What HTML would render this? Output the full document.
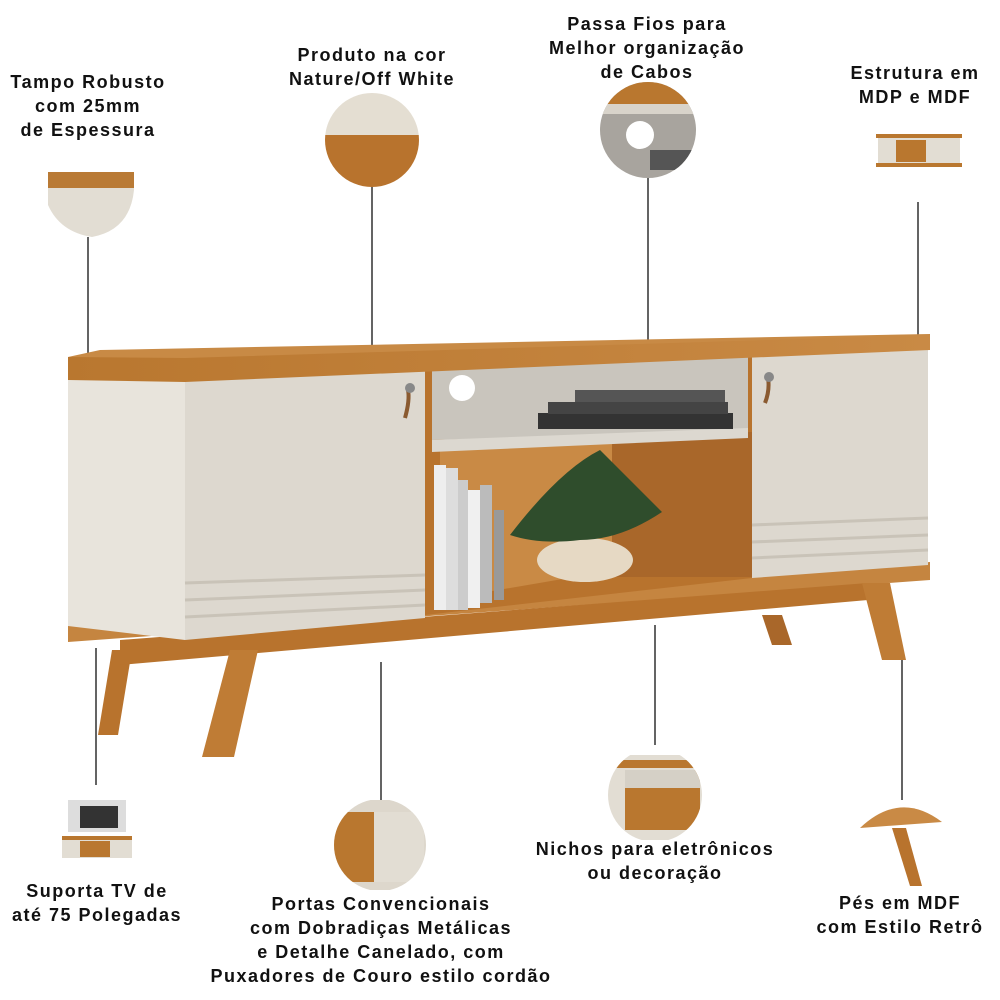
<!DOCTYPE html>
<html><head><meta charset="utf-8"><style>
html,body{margin:0;padding:0;background:#fff;width:1000px;height:1000px;overflow:hidden}
svg{display:block}
text{font-family:"Liberation Sans",sans-serif;font-weight:bold;font-size:18px;letter-spacing:1.5px;fill:#111;text-anchor:middle}
</style></head><body>
<svg width="1000" height="1000" viewBox="0 0 1000 1000">
<defs>
<linearGradient id="wood" x1="0" y1="0" x2="1" y2="0"><stop offset="0" stop-color="#b9772f"/><stop offset="1" stop-color="#c98a45"/></linearGradient>
<clipPath id="c1"><circle cx="372" cy="140" r="47"/></clipPath>
<clipPath id="c2"><circle cx="648" cy="130" r="48"/></clipPath>
<clipPath id="c3"><circle cx="655" cy="795" r="47"/></clipPath>
<clipPath id="c4"><circle cx="380" cy="845" r="46"/></clipPath>
</defs>
<text x="88" y="88">Tampo Robusto</text><text x="88" y="112">com 25mm</text><text x="88" y="136">de Espessura</text>
<text x="372" y="61">Produto na cor</text><text x="372" y="85">Nature/Off White</text>
<text x="647" y="30">Passa Fios para</text><text x="647" y="54">Melhor organização</text><text x="647" y="78">de Cabos</text>
<text x="915" y="79">Estrutura em</text><text x="915" y="103">MDP e MDF</text>
<text x="97" y="897">Suporta TV de</text><text x="97" y="921">até 75 Polegadas</text>
<text x="381" y="910">Portas Convencionais</text><text x="381" y="934">com Dobradiças Metálicas</text><text x="381" y="958">e Detalhe Canelado, com</text><text x="381" y="982">Puxadores de Couro estilo cordão</text>
<text x="655" y="855">Nichos para eletrônicos</text><text x="655" y="879">ou decoração</text>
<text x="900" y="909">Pés em MDF</text><text x="900" y="933">com Estilo Retrô</text>
<g stroke="#111" stroke-width="1.3">
<line x1="88" y1="237" x2="88" y2="360"/><line x1="372" y1="187" x2="372" y2="350"/>
<line x1="648" y1="178" x2="648" y2="340"/><line x1="918" y1="202" x2="918" y2="337"/>
<line x1="96" y1="648" x2="96" y2="785"/><line x1="381" y1="662" x2="381" y2="800"/>
<line x1="655" y1="625" x2="655" y2="745"/><line x1="902" y1="660" x2="902" y2="800"/>
</g>
<path d="M48 172 L134 172 L134 190 Q130 230 92 237 Q60 232 48 205 Z" fill="#e2ddd3"/>
<rect x="48" y="172" width="86" height="16" fill="#b97a35"/>
<g clip-path="url(#c1)"><rect x="320" y="90" width="110" height="45" fill="#e4ded2"/><rect x="320" y="135" width="110" height="60" fill="#b8732d"/></g>
<g clip-path="url(#c2)"><rect x="595" y="80" width="110" height="100" fill="#a8a49e"/><rect x="595" y="82" width="110" height="22" fill="#b9772f"/><rect x="595" y="104" width="110" height="10" fill="#d8d3ca"/><circle cx="640" cy="135" r="14" fill="#fff"/><rect x="650" y="150" width="50" height="20" fill="#555"/></g>
<rect x="878" y="135" width="82" height="30" fill="#e2ddd3"/><rect x="876" y="134" width="86" height="4" fill="#b9772f"/><rect x="896" y="140" width="30" height="22" fill="#b9772f"/><rect x="876" y="163" width="86" height="4" fill="#b9772f"/>
<rect x="68" y="800" width="58" height="32" fill="#ddd"/><rect x="80" y="806" width="38" height="22" fill="#333"/><rect x="62" y="838" width="70" height="20" fill="#e2ddd3"/><rect x="62" y="836" width="70" height="4" fill="#b9772f"/><rect x="80" y="841" width="30" height="16" fill="#b9772f"/>
<g clip-path="url(#c4)"><rect x="334" y="800" width="100" height="90" fill="#ddd7cc"/><rect x="334" y="812" width="40" height="70" fill="#b9772f"/><rect x="374" y="812" width="50" height="70" fill="#e2ddd3"/></g>
<g clip-path="url(#c3)"><rect x="605" y="755" width="100" height="85" fill="#e2ddd3"/><rect x="610" y="760" width="95" height="8" fill="#b9772f"/><rect x="625" y="770" width="75" height="60" fill="#b9772f"/><rect x="625" y="770" width="75" height="18" fill="#d5d0c6"/></g>
<path d="M860 828 Q900 790 942 822 Z" fill="#c98a45"/><polygon points="892,828 906,828 922,886 910,886" fill="#b8732d"/>
<polygon points="112,650 132,650 118,735 98,735" fill="#b8732d"/>
<polygon points="762,615 782,615 792,645 772,645" fill="#a9672a"/>
<polygon points="68,620 930,562 930,580 68,642" fill="#c58540"/>
<polygon points="120,640 868,583 868,600 120,665" fill="#b8732d"/>
<polygon points="230,650 258,650 234,757 202,757" fill="#bf7c35"/>
<polygon points="862,583 890,583 906,660 882,660" fill="#bf7c35"/>
<polygon points="425,370 752,355 752,578 425,615" fill="#b8732d"/>
<polygon points="440,440 615,432 615,570 440,600" fill="#c98a45"/>
<rect x="612" y="432" width="140" height="145" fill="#a9672a"/>
<polygon points="432,360 748,356 748,432 432,440" fill="#c9c5bd"/>
<polygon points="432,440 748,428 748,438 432,452" fill="#dcd8d0"/>
<circle cx="462" cy="388" r="13" fill="#fff"/>
<rect x="538" y="413" width="195" height="16" fill="#333"/><rect x="548" y="402" width="180" height="12" fill="#444"/><rect x="575" y="390" width="150" height="12" fill="#555"/>
<rect x="434" y="465" width="12" height="145" fill="#eee"/><rect x="446" y="468" width="12" height="142" fill="#ddd"/><rect x="458" y="480" width="10" height="130" fill="#ccc"/><rect x="468" y="490" width="12" height="118" fill="#f0f0f0"/><rect x="480" y="485" width="12" height="118" fill="#bbb"/><rect x="494" y="510" width="10" height="90" fill="#999"/>
<ellipse cx="585" cy="560" rx="48" ry="22" fill="#e6d9c4"/>
<path d="M510 535 Q560 470 600 450 Q640 490 662 512 Q620 540 580 540 Q540 545 510 535Z" fill="#2f4d2c"/>
<polygon points="68,372 185,375 185,640 68,626" fill="#e8e4dc"/>
<polygon points="185,375 425,370 425,618 185,640" fill="#ddd8cf"/>
<g stroke="#c9c3b8" stroke-width="3"><line x1="185" y1="583" x2="425" y2="575"/><line x1="185" y1="600" x2="425" y2="590"/><line x1="185" y1="617" x2="425" y2="605"/></g>
<path d="M408 390 Q410 400 405 418" stroke="#8a5a30" stroke-width="4" fill="none"/><circle cx="410" cy="388" r="5" fill="#888"/>
<polygon points="752,355 928,350 928,565 752,578" fill="#ddd8cf"/>
<g stroke="#c9c3b8" stroke-width="3"><line x1="752" y1="525" x2="928" y2="518"/><line x1="752" y1="542" x2="928" y2="535"/><line x1="752" y1="558" x2="928" y2="550"/></g>
<path d="M768 378 Q770 390 765 403" stroke="#8a5a30" stroke-width="4" fill="none"/><circle cx="769" cy="377" r="5" fill="#888"/>
<polygon points="68,357 100,350 930,334 930,348 185,372 68,370" fill="#c88a45"/>
<polygon points="68,357 185,358 930,335 930,350 185,382 68,380" fill="url(#wood)"/>
</svg>
</body></html>
